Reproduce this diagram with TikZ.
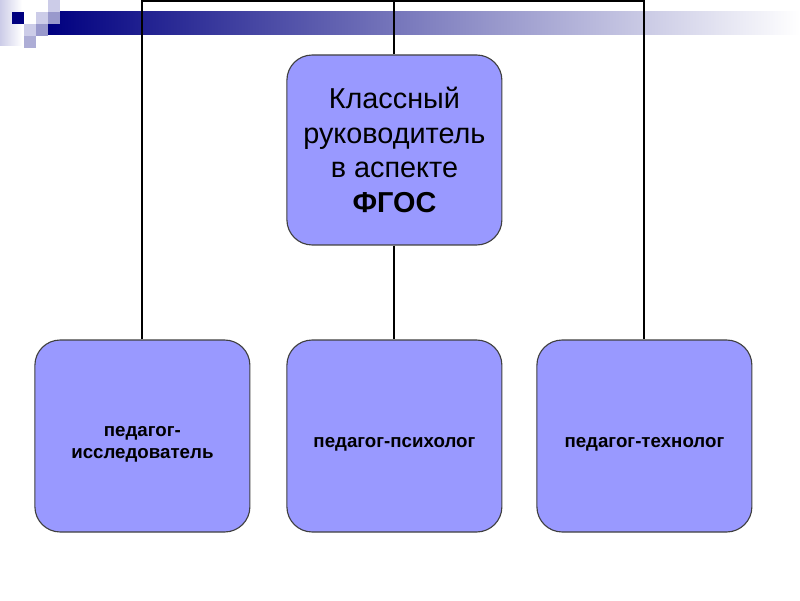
\documentclass[tikz,border=0pt]{standalone}
\usepackage{fontspec}
\setmainfont{Liberation Sans}
\usepackage{tikz}
\usetikzlibrary{positioning}
\definecolor{boxfill}{HTML}{9999FF}
\definecolor{boxline}{HTML}{404040}
\definecolor{navyblue}{HTML}{000080}
\definecolor{sqlight}{HTML}{CCCCE8}
\definecolor{sqmid}{HTML}{9999CC}

\begin{document}
\begin{tikzpicture}[
  rolebox/.style={draw=boxline, fill=boxfill, rectangle, rounded corners=18pt, minimum width=5.375cm, minimum height=4.8cm, align=center, inner sep=4pt, line width=0.8pt},
  rolefont/.style={font=\bfseries\fontsize{13.3}{15.5}\selectfont},
  link/.style={draw=black, line width=1.4pt},
  sq/.style={minimum size=0.3cm, inner sep=0pt, outer sep=0pt},
]
  \useasboundingbox (0,0) rectangle (20,15);
  % header decoration
  \shade[left color=sqlight, right color=white] (0,15) rectangle (0.55,13.85);
  \shade[left color=navyblue, right color=white] (1.2,14.7) rectangle (20,14.125);
  \node[sq, fill=navyblue, anchor=north west] (sqa) at (0.3,14.7) {};
  \node[sq, fill=sqlight, anchor=north west] (sqb) at (1.2,15) {};
  \node[sq, fill=sqlight, anchor=north west] (sqc) at (0.9,14.7) {};
  \node[sq, fill=sqmid, anchor=north west] (sqd) at (1.2,14.7) {};
  \node[sq, fill=sqlight, anchor=north west] (sqe) at (0.6,14.4) {};
  \node[sq, fill=sqmid, anchor=north west] (sqf) at (0.9,14.4) {};
  \node[sq, fill=sqmid!80!white, anchor=north west] (sqg) at (0.6,14.1) {};

  \node[rolebox, minimum height=4.75cm, font=\fontsize{20.5}{24.5}\selectfont] (lead) at (9.86,11.25) {Классный\\руководитель\\в аспекте\\\textbf{ФГОС}};
  \node[rolebox, rolefont] (res) at (3.56,4.1) {\rule{0pt}{0.65cm}педагог-\\исследователь};
  \node[rolebox, rolefont] (psy) at (9.86,4.1) {\rule{0pt}{0.65cm}педагог-психолог};
  \node[rolebox, rolefont] (tech) at (16.11,4.1) {\rule{0pt}{0.65cm}педагог-технолог};
  \coordinate (bus) at (9.86,14.97);

  \draw[link] (res.north) |- (bus) -| (tech.north);
  \draw[link] (lead.north) -- (bus);
  \draw[link] (lead.south) -- (psy.north);
\end{tikzpicture}
\end{document}
